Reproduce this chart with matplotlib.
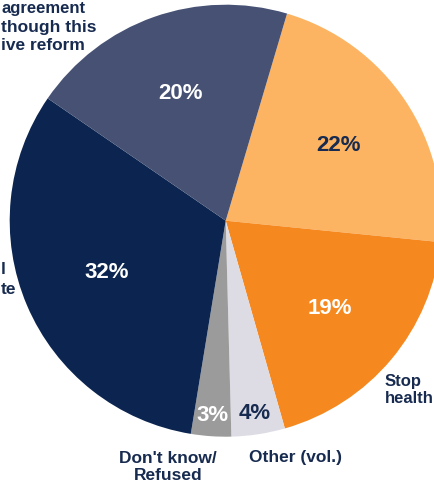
import numpy as np
import matplotlib
matplotlib.use("Agg")
import matplotlib.pyplot as plt

# slices, clockwise starting just right of 12 o'clock
shares = [22, 19, 4, 3, 32, 20]
colors = ["#FDB462", "#F5891F", "#DDDCE4", "#9B9B9B", "#0B2550", "#465174"]
pct_colors = ["#172A4F", "white", "#172A4F", "white", "white", "white"]
pct_dist = [0.63, 0.63, 0.9, 0.9, 0.6, 0.63]

NAVY = "#172A4F"
plt.rcParams["font.family"] = ["Liberation Sans", "DejaVu Sans"]

W, H = 435, 489
cx, cy, r = 225.7, 221.7, 216.0   # pie centre / radius in pixels (from top-left)

fig = plt.figure(figsize=(W / 100, H / 100), dpi=100)
ax = fig.add_axes([(cx - r) / W, (H - cy - r) / H, 2 * r / W, 2 * r / H])

wedges, _ = ax.pie(shares, colors=colors, startangle=73.5, counterclock=False,
                   radius=1, wedgeprops=dict(linewidth=0))
ax.set_xlim(-1, 1)
ax.set_ylim(-1, 1)
ax.axis("off")

for w, s, c, d in zip(wedges, shares, pct_colors, pct_dist):
    ang = np.deg2rad((w.theta1 + w.theta2) / 2)
    ax.text(d * np.cos(ang), d * np.sin(ang), f"{s}%", ha="center", va="center",
            color=c, fontsize=16, fontweight="bold")


def px(x, y):
    return (x - cx) / r, (cy - y) / r


def lab(x, y, s, ha="center", size=12.5):
    ax.text(*px(x, y), s, ha=ha, va="center", color=NAVY, fontsize=size,
            fontweight="bold", linespacing=1.1, clip_on=False)


# outer category labels (only the parts visible in the source frame)
lab(1, 8, "agreement", ha="left", size=12)
lab(1, 27, "though this", ha="left")
lab(1, 45, "ive reform", ha="left")
lab(1, 269, "l", ha="left")
lab(1, 290, "te", ha="left")
lab(385, 390, "Stop\nhealth", ha="left", size=12)
lab(168, 467, "Don't know/\nRefused")
lab(296, 458, "Other (vol.)")

fig.savefig("out.png", dpi=100)
